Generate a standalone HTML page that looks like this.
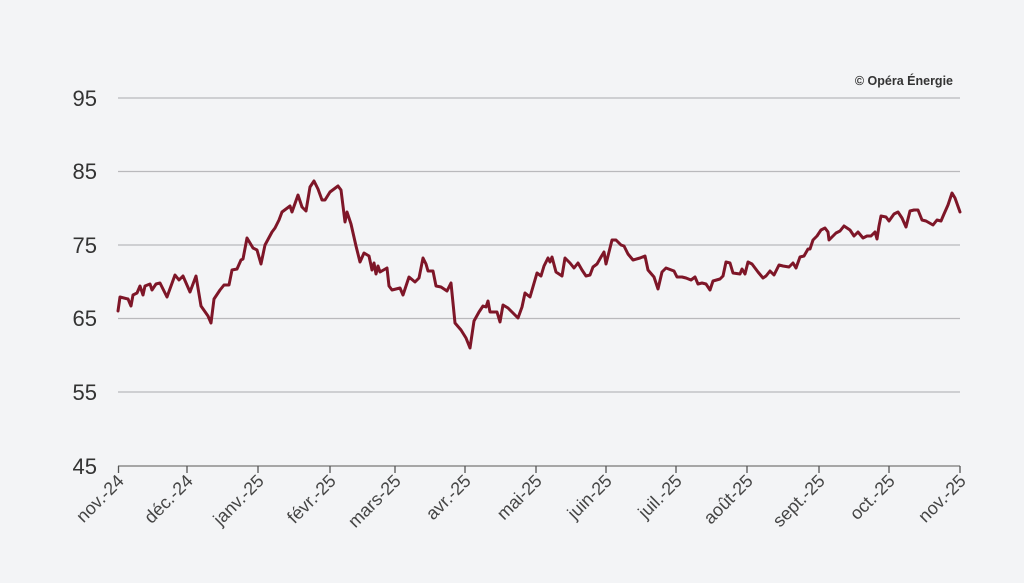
<!DOCTYPE html>
<html><head><meta charset="utf-8"><style>
html,body{margin:0;padding:0;background:#f3f4f6;}
svg{display:block;}
text{font-family:"Liberation Sans",sans-serif;}
</style></head><body>
<svg width="1024" height="583" viewBox="0 0 1024 583" xmlns="http://www.w3.org/2000/svg">
<rect width="1024" height="583" fill="#f3f4f6"/>
<g stroke="#b9b9bc" stroke-width="1.2">
<line x1="118" y1="98" x2="960" y2="98"/>
<line x1="118" y1="171.5" x2="960" y2="171.5"/>
<line x1="118" y1="245" x2="960" y2="245"/>
<line x1="118" y1="318.5" x2="960" y2="318.5"/>
<line x1="118" y1="392" x2="960" y2="392"/>
</g>
<line x1="118" y1="466" x2="960" y2="466" stroke="#777" stroke-width="1.3"/>
<g stroke="#555" stroke-width="1.3">
<line x1="118.5" y1="466" x2="118.5" y2="473"/><line x1="187" y1="466" x2="187" y2="473"/><line x1="258" y1="466" x2="258" y2="473"/><line x1="330" y1="466" x2="330" y2="473"/><line x1="395" y1="466" x2="395" y2="473"/><line x1="465" y1="466" x2="465" y2="473"/><line x1="536" y1="466" x2="536" y2="473"/><line x1="606" y1="466" x2="606" y2="473"/><line x1="676" y1="466" x2="676" y2="473"/><line x1="747" y1="466" x2="747" y2="473"/><line x1="819" y1="466" x2="819" y2="473"/><line x1="889" y1="466" x2="889" y2="473"/><line x1="960" y1="466" x2="960" y2="473"/>
</g>
<g font-size="22" fill="#333" text-anchor="end">
<text x="97" y="106">95</text><text x="97" y="179">85</text><text x="97" y="253">75</text><text x="97" y="326">65</text><text x="97" y="400">55</text><text x="97" y="474">45</text>
</g>
<g font-size="18" fill="#444" text-anchor="end">
<text transform="translate(125,482) rotate(-45)">nov.-24</text>
<text transform="translate(194,482) rotate(-45)">déc.-24</text>
<text transform="translate(265,482) rotate(-45)">janv.-25</text>
<text transform="translate(337,482) rotate(-45)">févr.-25</text>
<text transform="translate(402,482) rotate(-45)">mars-25</text>
<text transform="translate(472,482) rotate(-45)">avr.-25</text>
<text transform="translate(543,482) rotate(-45)">mai-25</text>
<text transform="translate(613,482) rotate(-45)">juin-25</text>
<text transform="translate(683,482) rotate(-45)">juil.-25</text>
<text transform="translate(754,482) rotate(-45)">août-25</text>
<text transform="translate(826,482) rotate(-45)">sept.-25</text>
<text transform="translate(896,482) rotate(-45)">oct.-25</text>
<text transform="translate(967,482) rotate(-45)">nov.-25</text>
</g>
<text x="953" y="85" font-size="12.5" font-weight="bold" fill="#333" text-anchor="end">© Opéra Énergie</text>
<polyline fill="none" stroke="#7e1628" stroke-width="3" stroke-linejoin="round" stroke-linecap="round" points="118,311 120,297 128,299 131,306 133,295 137,293 140,286 143,295 145,286 150,284 152,290 156,284 160,283 167,297 175,275 179,280 183,276 190,292 196,276 201,306 208,316 211,323 214,299 220,290 224,285 229,285 232,270 237,269 241,260 243,259 247,238 253,248 257,250 261,264 265,245 272,232 275,228 279,220 282,212 290,206 292,212 298,195 302,207 306,211 310,187 314,181 318,189 322,200 325,200 330,192 338,186 341,190 345,222 347,212 351,224 356,246 360,262 364,253 369,256 372,270 374,263 376,274 378,266 380,272 387,268 389,286 392,290 396,289 400,288 403,295 409,277 415,282 419,278 423,258 426,264 428,271 433,271 436,286 441,287 447,291 451,283 455,323 461,330 466,338 470,348 474,321 479,312 483,306 486,307 488,301 490,312 497,312 500,322 503,305 508,308 513,313 518,318 522,307 525,293 530,297 537,273 541,276 544,266 548,258 550,262 552,257 556,272 562,276 565,258 570,263 574,268 578,263 582,270 586,276 590,275 593,267 597,264 601,257 604,252 606,264 612,240 616,240 621,245 624,246 628,254 633,260 640,258 645,256 648,270 654,277 658,289 662,272 666,268 674,271 677,277 682,277 686,278 691,280 695,277 698,284 702,283 706,284 710,290 713,281 720,279 723,276 726,262 730,263 733,273 740,274 742,269 745,274 748,262 752,264 758,272 763,278 766,276 770,271 774,275 779,265 783,266 789,267 793,263 796,268 800,257 804,256 808,249 810,249 813,240 817,236 821,230 825,228 828,232 829,240 836,233 840,231 844,226 850,230 854,236 858,232 863,238 867,236 871,236 875,232 877,239 879,226 881,216 886,217 889,221 894,214 898,212 902,218 906,227 910,211 914,210 918,210 922,220 926,221 933,225 937,220 941,221 944,214 948,205 952,193 955,198 960,212"/>
</svg>
</body></html>
